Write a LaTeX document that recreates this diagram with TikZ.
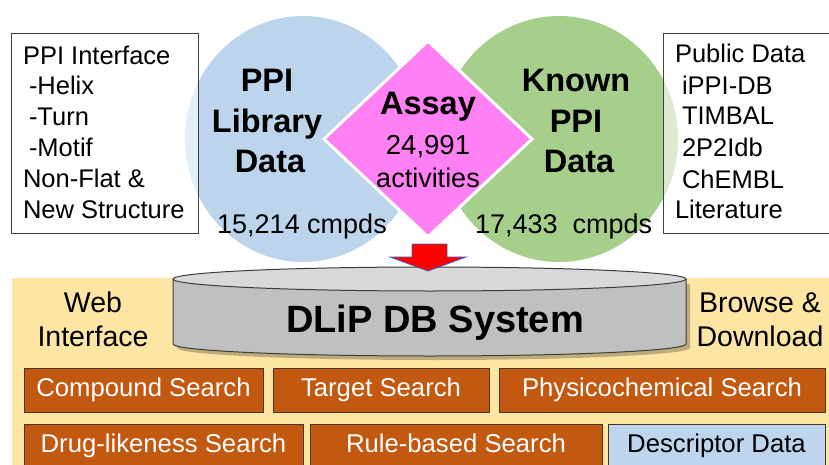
\documentclass[tikz,border=0pt]{standalone}
\usepackage{fontspec}
\setmainfont{Liberation Sans}
\usetikzlibrary{shapes.geometric}
\definecolor{cblue}{RGB}{189,213,236}
\definecolor{cgreen}{RGB}{167,207,140}
\definecolor{cpink}{RGB}{255,128,242}
\definecolor{cyellow}{RGB}{253,229,163}
\definecolor{corange}{RGB}{195,88,17}
\definecolor{cdesc}{RGB}{190,214,237}
\definecolor{boxedge}{RGB}{70,55,40}
\definecolor{cyltop}{RGB}{217,217,217}
\definecolor{cylbody}{RGB}{192,192,192}
\definecolor{cylline}{RGB}{60,60,60}
\definecolor{arrowblue}{RGB}{60,90,190}
\begin{document}
\begin{tikzpicture}[x=1pt,y=-1pt,
  every node/.style={inner sep=0pt,outer sep=0pt},
  infobox/.style={draw=black!75,fill=white,fill opacity=0.6,line width=0.8pt,anchor=north west},
  infotext/.style={anchor=base west,font=\fontsize{25.5}{30}\selectfont},
  bigbold/.style={anchor=base,font=\fontsize{32.5}{38}\selectfont\bfseries},
  midtext/.style={anchor=base,font=\fontsize{27}{31}\selectfont},
  sidetext/.style={anchor=base,font=\fontsize{28.5}{33}\selectfont},
  sbox/.style={draw=boxedge,fill=corange,text=white,line width=0.8pt,anchor=north west,
    font=\fontsize{25.7}{30}\selectfont,text height=18pt,text depth=5pt,minimum height=44pt}]
\useasboundingbox (0,0) rectangle (829,465);
\clip (0,0) rectangle (829,465);

% circles
\node[ellipse,fill=cblue,minimum width=236pt,minimum height=246pt] (libc) at (303,139) {};
\node[ellipse,fill=cgreen,minimum width=238pt,minimum height=246pt] (knownc) at (559,139) {};

% diamond
\node[diamond,fill=cpink,draw=white,line width=3pt,minimum width=208pt,minimum height=196pt] (assay) at (428,139) {};

% side boxes
\node[infobox,minimum width=187pt,minimum height=200pt] (leftbox) at (11,33) {};
\node[infobox,minimum width=170pt,minimum height=200pt] (rightbox) at (663,33) {};

\node[infotext] (l1) at (23,65) {PPI Interface};
\node[infotext] (l2) at (29,95) {-Helix};
\node[infotext] (l3) at (29,126) {-Turn};
\node[infotext] (l4) at (29,157) {-Motif};
\node[infotext] (l5) at (23,187) {Non-Flat \&};
\node[infotext] (l6) at (23,218) {New Structure};

\node[infotext] (r1) at (675,63) {Public Data};
\node[infotext] (r2) at (682,95) {iPPI-DB};
\node[infotext] (r3) at (682,125) {TIMBAL};
\node[infotext] (r4) at (682,157) {2P2Idb};
\node[infotext] (r5) at (682,188) {ChEMBL};
\node[infotext] (r6) at (675,218) {Literature};

% circle texts
\node[bigbold] (b1) at (267,92) {PPI};
\node[bigbold] (b2) at (267,133) {Library};
\node[bigbold] (b3) at (270,173) {Data};
\node[midtext] (b4) at (302,233) {15,214 cmpds};

\node[bigbold] (g1) at (576,92) {Known};
\node[bigbold] (g2) at (576,133) {PPI};
\node[bigbold] (g3) at (579,173) {Data};
\node[midtext,anchor=base west] (g4) at (475,233) {17,433\ \ cmpds};

\node[bigbold] (a1) at (428,115) {Assay};
\node[midtext,font=\fontsize{27.5}{31}\selectfont] (a2) at (428,155) {24,991};
\node[midtext] (a3) at (428,187) {activities};

% lower panel
\node[fill=cyellow,minimum width=817pt,minimum height=190pt,anchor=north west] (panel) at (12,278) {};

% cylinder shadow
\fill[black,opacity=0.25] (177,284) -- (177,348) arc[start angle=180,end angle=0,x radius=256.5,y radius=12] -- (690,284) -- cycle;
% cylinder body
\fill[cylbody] (173,279) -- (173,344) arc[start angle=180,end angle=0,x radius=256.5,y radius=12] -- (686,279) -- cycle;
\draw[cylline,line width=1pt] (173,279) -- (173,344) arc[start angle=180,end angle=0,x radius=256.5,y radius=12] -- (686,279);
\draw[cylline,fill=cyltop,line width=1pt] (429.5,279) ellipse[x radius=256.5,y radius=12];
\node[anchor=base,font=\fontsize{38}{44}\selectfont\bfseries] (dlip) at (435,332) {DLiP DB System};

\node[sidetext] (w1) at (93,312) {Web};
\node[sidetext] (w2) at (93,346) {Interface};
\node[sidetext] (d1) at (760,312) {Browse \&};
\node[sidetext] (d2) at (760,346) {Download};

% red arrow
\draw[fill=red,draw=arrowblue,line width=0.8pt,line join=miter]
  (412,244) -- (447,244) -- (447,257) -- (466,257) -- (428,271) -- (390,257) -- (412,257) -- cycle;

% search boxes
\node[sbox,minimum width=239pt] (cs) at (24,368) {Compound Search};
\node[sbox,minimum width=216pt] (ts) at (273,368) {Target Search};
\node[sbox,minimum width=326pt] (ps) at (499,368) {Physicochemical Search};
\node[sbox,minimum width=279pt] (ds) at (24,424) {Drug-likeness Search};
\node[sbox,minimum width=292pt] (rs) at (310,424) {Rule-based Search};
\node[sbox,minimum width=217pt,fill=cdesc,text=black] (dd) at (608,424) {Descriptor Data};
\end{tikzpicture}
\end{document}
